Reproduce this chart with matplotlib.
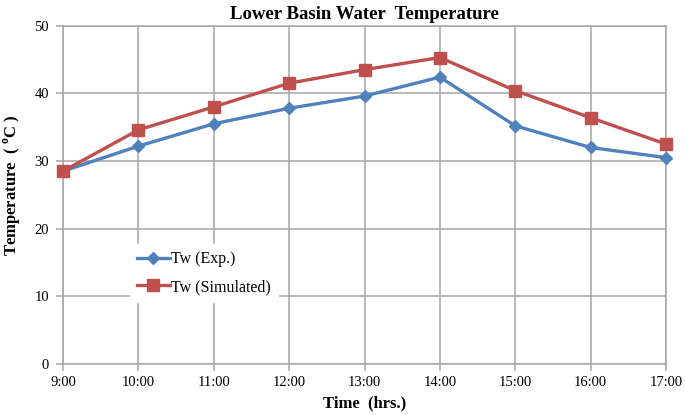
import matplotlib
matplotlib.use('Agg')
import matplotlib.pyplot as plt

plt.rcParams['font.family'] = ['Liberation Serif', 'DejaVu Serif']

# data
times = ['9:00', '10:00', '11:00', '12:00', '13:00', '14:00', '15:00', '16:00', '17:00']
tw_exp = [28.5, 32.2, 35.5, 37.8, 39.6, 42.4, 35.2, 32.0, 30.5]
tw_sim = [28.5, 34.6, 38.0, 41.5, 43.5, 45.3, 40.4, 36.4, 32.5]

blue = '#4F81BD'
red = '#C0504D'
grid_c = '#A6A6A6'

fig = plt.figure(figsize=(6.85, 4.15), dpi=100)
ax = fig.add_axes([63/685, 1-364/415, 603/685, (364-25.7)/415])

x = list(range(len(times)))
ax.plot(x, tw_exp, color=blue, lw=2.4, marker='D', markersize=6.5, label='Tw (Exp.)',
        zorder=3, clip_on=False)
ax.plot(x, tw_sim, color=red, lw=2.4, marker='s', markersize=8, label='Tw (Simulated)',
        zorder=4, clip_on=False)

ax.set_xlim(0, len(times)-1)
ax.set_ylim(0, 50)
ax.set_xticks(x)
ax.set_xticklabels(times)
ax.set_yticks(range(0, 51, 10))
ax.grid(True, color=grid_c, lw=1.1)
ax.set_axisbelow(True)
for s in ax.spines.values():
    s.set_color(grid_c)
    s.set_linewidth(1.1)
ax.tick_params(axis='both', colors=grid_c, labelcolor='black', labelsize=10.5, length=5, width=1.1)
ax.tick_params(axis='y', pad=5)

ax.set_title('Lower Basin Water  Temperature', fontsize=13.5, fontweight='bold', pad=5)
ax.set_xlabel('Time  (hrs.)', fontsize=12, fontweight='bold', labelpad=5)
ax.set_ylabel('Temperature  ( $^{\\mathregular{o}}$C )', fontsize=12, fontweight='bold')
ax.yaxis.set_label_coords(-0.067, 0.53)

leg = ax.legend(loc='upper left', bbox_to_anchor=(0.111, 0.355), frameon=True, fontsize=11.5,
                handlelength=2.05, handletextpad=0.05, borderpad=0.45, labelspacing=0.75,
                borderaxespad=0)
leg.get_frame().set_edgecolor('white')
leg.get_frame().set_facecolor('white')
leg.get_frame().set_alpha(1)
leg.get_frame().set_boxstyle('square', pad=0)

fig.savefig('out.png', dpi=100)
